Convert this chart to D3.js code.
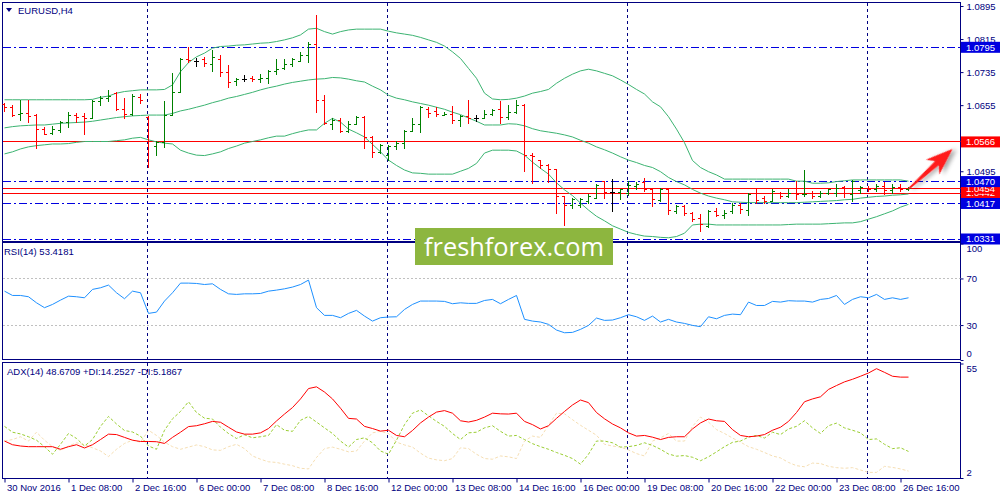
<!DOCTYPE html>
<html>
<head>
<meta charset="utf-8">
<script src="https://d3js.org/d3.v7.min.js"></script>
<style>
body { margin: 0; background: #fff; }
svg text { font-family: Tahoma, "Liberation Sans", Arial, sans-serif; font-size: 9.5px; }
</style>
</head>
<body>
<script>
// EURUSD H4 bars from 30 Nov 2016 00:00, one value per bar
var openP = [1.0657,1.0650,1.0633,1.0635,1.0629,1.0597,1.0587,1.0593,1.0613,1.0629,
  1.0627,1.0623,1.0663,1.0671,1.0682,1.0644,1.0632,1.0674,1.0624,1.0556,
  1.0564,1.0631,1.0686,1.0766,1.0760,1.0766,1.0754,1.0766,1.0734,1.0712,
  1.0718,1.0720,1.0716,1.0720,1.0736,1.0744,1.0754,1.0760,1.0775,1.0803,
  1.0667,1.0609,1.0619,1.0591,1.0609,1.0626,1.0577,1.0540,1.0534,1.0555,
  1.0561,1.0591,1.0609,1.0645,1.0639,1.0631,1.0633,1.0618,1.0627,1.0622,
  1.0623,1.0633,1.0645,1.0626,1.0637,1.0655,1.0534,1.0521,1.0510,1.0500,
  1.0433,1.0413,1.0411,1.0421,1.0429,1.0469,1.0443,1.0443,1.0441,1.0457,
  1.0467,1.0450,1.0425,1.0450,1.0397,1.0409,1.0393,1.0381,1.0362,1.0397,
  1.0389,1.0397,1.0413,1.0401,1.0440,1.0429,1.0422,1.0442,1.0434,1.0442,
  1.0438,1.0442,1.0434,1.0442,1.0442,1.0456,1.0438,1.0448,1.0454,1.0451,
  1.0459,1.0448,1.0456,1.0450];
var highP = [1.0659,1.0653,1.0667,1.0667,1.0633,1.0601,1.0603,1.0615,1.0638,1.0635,
  1.0635,1.0667,1.0675,1.0690,1.0685,1.0671,1.0680,1.0680,1.0627,1.0567,
  1.0663,1.0732,1.0768,1.0795,1.0768,1.0771,1.0787,1.0776,1.0752,1.0720,
  1.0726,1.0724,1.0728,1.0738,1.0766,1.0766,1.0768,1.0783,1.0806,1.0873,
  1.0678,1.0623,1.0623,1.0615,1.0627,1.0627,1.0578,1.0560,1.0558,1.0567,
  1.0593,1.0623,1.0651,1.0650,1.0650,1.0638,1.0651,1.0631,1.0667,1.0629,
  1.0641,1.0645,1.0663,1.0655,1.0667,1.0657,1.0537,1.0522,1.0512,1.0500,
  1.0435,1.0428,1.0429,1.0439,1.0464,1.0471,1.0474,1.0451,1.0469,1.0467,
  1.0477,1.0451,1.0454,1.0451,1.0411,1.0411,1.0395,1.0391,1.0399,1.0405,
  1.0399,1.0417,1.0416,1.0442,1.0450,1.0434,1.0450,1.0443,1.0451,1.0471,
  1.0498,1.0446,1.0446,1.0451,1.0464,1.0459,1.0472,1.0459,1.0459,1.0463,
  1.0467,1.0462,1.0462,1.0456];
var lowP = [1.0639,1.0627,1.0618,1.0613,1.0550,1.0583,1.0583,1.0589,1.0601,1.0613,
  1.0583,1.0622,1.0654,1.0663,1.0643,1.0622,1.0631,1.0659,1.0504,1.0534,
  1.0552,1.0631,1.0686,1.0758,1.0748,1.0748,1.0736,1.0724,1.0698,1.0702,
  1.0712,1.0713,1.0710,1.0708,1.0730,1.0742,1.0748,1.0760,1.0758,1.0637,
  1.0607,1.0595,1.0589,1.0589,1.0607,1.0550,1.0528,1.0537,1.0520,1.0548,
  1.0550,1.0591,1.0589,1.0626,1.0627,1.0629,1.0611,1.0604,1.0611,1.0615,
  1.0622,1.0631,1.0611,1.0621,1.0635,1.0494,1.0466,1.0502,1.0467,1.0393,
  1.0363,1.0405,1.0408,1.0416,1.0428,1.0429,1.0397,1.0427,1.0437,1.0452,
  1.0445,1.0409,1.0421,1.0391,1.0393,1.0389,1.0373,1.0349,1.0359,1.0385,
  1.0381,1.0393,1.0393,1.0388,1.0417,1.0417,1.0421,1.0429,1.0431,1.0427,
  1.0434,1.0429,1.0432,1.0439,1.0434,1.0432,1.0421,1.0442,1.0446,1.0447,
  1.0438,1.0442,1.0446,1.0448];
var closeP = [1.0650,1.0629,1.0635,1.0627,1.0597,1.0585,1.0595,1.0613,1.0629,1.0626,
  1.0623,1.0665,1.0671,1.0677,1.0644,1.0632,1.0677,1.0667,1.0567,1.0564,
  1.0631,1.0686,1.0766,1.0762,1.0760,1.0756,1.0770,1.0734,1.0710,1.0717,
  1.0718,1.0716,1.0720,1.0736,1.0742,1.0754,1.0766,1.0775,1.0803,1.0667,
  1.0611,1.0619,1.0591,1.0609,1.0626,1.0577,1.0540,1.0558,1.0555,1.0561,
  1.0591,1.0609,1.0649,1.0635,1.0632,1.0633,1.0618,1.0627,1.0623,1.0622,
  1.0633,1.0641,1.0626,1.0637,1.0655,1.0534,1.0530,1.0510,1.0500,1.0435,
  1.0411,1.0426,1.0427,1.0435,1.0461,1.0443,1.0443,1.0450,1.0461,1.0464,
  1.0451,1.0427,1.0450,1.0401,1.0409,1.0393,1.0377,1.0367,1.0397,1.0389,
  1.0393,1.0413,1.0402,1.0439,1.0425,1.0421,1.0446,1.0434,1.0442,1.0438,
  1.0439,1.0434,1.0442,1.0450,1.0454,1.0440,1.0469,1.0456,1.0450,1.0459,
  1.0448,1.0456,1.0450,1.0454];

// Bollinger bands
var bbUpper = [1.0668,1.0668,1.0668,1.0668,1.0668,1.0668,1.0668,1.0668,1.0668,1.0668,
  1.0668,1.0669,1.0674,1.0677,1.0684,1.0688,1.0690,1.0692,1.0692,1.0692,
  1.0693,1.0704,1.0736,1.0758,1.0772,1.0781,1.0793,1.0797,1.0798,1.0800,
  1.0801,1.0803,1.0805,1.0806,1.0809,1.0813,1.0818,1.0825,1.0839,1.0841,
  1.0833,1.0827,1.0833,1.0837,1.0839,1.0839,1.0839,1.0839,1.0834,1.0830,
  1.0827,1.0824,1.0819,1.0813,1.0807,1.0798,1.0784,1.0768,1.0744,1.0720,
  1.0684,1.0670,1.0668,1.0669,1.0672,1.0677,1.0684,1.0688,1.0693,1.0708,
  1.0720,1.0730,1.0738,1.0742,1.0738,1.0732,1.0726,1.0716,1.0705,1.0693,
  1.0682,1.0663,1.0651,1.0627,1.0597,1.0564,1.0521,1.0504,1.0494,1.0486,
  1.0476,1.0476,1.0476,1.0476,1.0476,1.0476,1.0476,1.0476,1.0476,1.0471,
  1.0471,1.0466,1.0466,1.0467,1.0470,1.0472,1.0474,1.0474,1.0474,1.0474,
  1.0474,1.0474,1.0474,1.0471];
var bbMiddle = [1.0600,1.0603,1.0605,1.0606,1.0607,1.0607,1.0609,1.0611,1.0612,1.0613,
  1.0614,1.0616,1.0619,1.0622,1.0625,1.0627,1.0629,1.0630,1.0631,1.0631,
  1.0631,1.0635,1.0641,1.0645,1.0650,1.0655,1.0661,1.0666,1.0672,1.0676,
  1.0681,1.0686,1.0692,1.0697,1.0701,1.0706,1.0710,1.0713,1.0716,1.0718,
  1.0719,1.0722,1.0721,1.0718,1.0714,1.0711,1.0701,1.0692,1.0679,1.0672,
  1.0668,1.0663,1.0659,1.0655,1.0650,1.0645,1.0638,1.0632,1.0624,1.0616,
  1.0607,1.0607,1.0607,1.0610,1.0609,1.0605,1.0598,1.0593,1.0590,1.0587,
  1.0583,1.0578,1.0570,1.0563,1.0554,1.0547,1.0539,1.0530,1.0522,1.0516,
  1.0509,1.0504,1.0494,1.0480,1.0470,1.0462,1.0451,1.0442,1.0435,1.0430,
  1.0426,1.0421,1.0420,1.0419,1.0419,1.0419,1.0419,1.0419,1.0419,1.0419,
  1.0420,1.0421,1.0422,1.0423,1.0424,1.0426,1.0427,1.0430,1.0432,1.0434,
  1.0435,1.0437,1.0438,1.0440];
var bbLower = [1.0537,1.0542,1.0549,1.0554,1.0557,1.0559,1.0561,1.0561,1.0562,1.0565,
  1.0567,1.0567,1.0567,1.0567,1.0569,1.0571,1.0575,1.0577,1.0571,1.0566,
  1.0563,1.0561,1.0546,1.0539,1.0534,1.0533,1.0537,1.0542,1.0550,1.0556,
  1.0563,1.0567,1.0571,1.0576,1.0580,1.0580,1.0586,1.0591,1.0595,1.0595,
  1.0611,1.0623,1.0614,1.0597,1.0588,1.0578,1.0560,1.0542,1.0522,1.0509,
  1.0498,1.0491,1.0490,1.0488,1.0488,1.0488,1.0488,1.0495,1.0502,1.0514,
  1.0539,1.0546,1.0546,1.0546,1.0544,1.0534,1.0517,1.0502,1.0488,1.0467,
  1.0450,1.0436,1.0418,1.0401,1.0386,1.0375,1.0363,1.0355,1.0347,1.0342,
  1.0338,1.0337,1.0335,1.0334,1.0337,1.0345,1.0365,1.0367,1.0367,1.0365,
  1.0365,1.0365,1.0365,1.0365,1.0365,1.0365,1.0365,1.0365,1.0366,1.0367,
  1.0367,1.0367,1.0367,1.0368,1.0369,1.0370,1.0370,1.0373,1.0379,1.0385,
  1.0392,1.0399,1.0408,1.0415];

var rsiValues = [59.1,55.4,55.4,54.3,49.1,44.9,47.7,51.4,54.8,54.3,
  53.4,60.6,62.0,64.3,57.7,52.6,59.1,57.7,40.0,41.1,
  50.6,57.7,66.0,66.0,65.7,64.8,65.4,60.6,56.8,56.3,
  56.8,56.8,57.1,59.1,60.0,61.1,62.6,64.8,68.6,44.9,
  38.3,38.3,36.3,40.0,42.6,37.7,33.4,36.3,36.9,37.1,
  43.4,47.7,50.6,50.6,50.6,50.3,48.3,49.1,48.6,48.6,
  51.1,52.0,48.3,52.0,55.4,34.9,33.4,32.6,30.6,25.7,
  23.4,23.7,26.3,29.7,36.0,34.0,34.3,36.3,38.9,37.1,
  34.0,37.7,32.6,34.9,32.6,31.4,29.7,28.6,37.1,35.4,
  38.3,39.4,38.9,49.7,46.8,46.8,50.3,49.7,50.9,50.6,
  50.6,49.7,52.0,52.8,55.4,47.7,52.0,54.3,53.4,56.3,
  52.0,53.4,52.0,53.4];

var adxValues = [19.1,17.4,16.8,16.5,16.5,16.5,16.5,15.3,16.5,17.4,
  15.9,17.4,19.8,22.3,22.1,20.8,19.5,18.9,18.9,18.8,
  18.0,20.8,23.2,25.8,26.2,27.1,28.2,27.8,25.5,23.3,
  22.3,22.3,22.9,24.9,28.4,31.6,34.6,38.6,43.4,44.2,
  41.8,38.6,34.3,29.6,29.3,25.9,24.9,23.7,24.1,21.7,
  21.1,24.0,27.5,30.2,32.5,33.2,32.0,28.5,27.9,28.7,
  30.2,32.0,31.7,31.6,32.0,28.2,26.7,24.7,26.2,29.6,
  32.8,35.8,38.1,36.9,32.3,29.4,27.0,25.2,22.9,21.4,
  21.7,20.9,19.8,20.8,21.1,21.1,24.7,27.5,29.3,28.5,
  28.2,24.4,21.7,21.1,21.4,22.1,24.1,25.5,28.2,32.3,
  37.3,38.6,39.6,43.0,44.8,46.5,47.7,49.1,50.6,52.6,
  50.9,49.1,48.7,48.7];
var plusDI = [25.9,23.2,22.4,21.1,19.5,16.5,13.0,17.6,22.6,20.3,
  16.8,19.8,25.9,30.5,27.0,24.0,23.3,21.4,16.8,15.3,
  24.1,29.4,32.8,37.3,32.3,29.7,29.3,25.5,22.6,20.3,
  22.0,20.6,21.1,21.7,26.7,24.1,23.6,28.7,30.5,27.9,
  25.2,22.6,19.1,16.3,19.8,20.6,18.3,14.5,13.0,19.5,
  26.7,32.0,33.5,30.8,28.2,25.9,22.6,19.8,22.9,23.2,
  25.2,26.2,23.6,21.4,21.7,19.8,17.9,16.5,15.3,13.8,
  12.5,11.0,8.4,13.0,19.1,19.1,18.3,16.3,16.5,17.1,
  18.3,17.1,15.3,13.1,12.1,12.4,11.6,10.0,11.8,14.1,
  16.5,18.5,19.1,20.9,21.7,20.5,23.2,22.1,24.7,25.9,
  28.5,25.2,22.6,26.2,27.4,25.2,24.1,22.9,19.8,20.1,
  17.6,15.6,16.0,14.3];
var minusDI = [19.1,19.8,21.1,19.1,23.2,19.5,16.5,14.8,16.8,18.3,
  17.4,16.0,14.5,11.9,15.3,18.0,19.5,18.6,24.1,21.7,
  18.6,16.5,15.3,16.3,17.3,16.5,15.0,14.8,16.5,17.6,
  15.6,12.2,10.7,9.5,9.2,8.4,7.7,6.5,6.2,11.5,
  15.6,16.3,15.3,14.1,14.5,19.1,22.9,23.6,22.6,18.6,
  17.3,16.3,13.5,11.2,10.4,10.0,11.0,16.0,15.6,13.0,
  11.0,10.7,12.2,11.8,11.0,19.1,21.4,20.8,26.4,32.0,
  31.7,29.0,26.4,24.1,21.8,17.6,16.8,16.3,15.0,13.3,
  12.2,19.1,20.6,22.6,19.1,19.1,25.9,30.2,27.9,24.4,
  22.6,20.5,18.6,16.5,15.3,13.8,12.2,11.3,9.2,7.7,
  7.2,8.9,8.7,7.4,6.8,6.5,6.8,5.7,4.6,4.6,
  7.4,6.9,6.2,5.2];

var timeTickBars = [0,8,16,24,32,40,48,56,64,72,80,88,96,104,112];
var timeLabels = ['30 Nov 2016','1 Dec 08:00','2 Dec 16:00','6 Dec 00:00','7 Dec 08:00',
  '8 Dec 16:00','12 Dec 00:00','13 Dec 08:00','14 Dec 16:00','16 Dec 00:00',
  '19 Dec 08:00','20 Dec 16:00','22 Dec 00:00','23 Dec 08:00','26 Dec 16:00'];
var separatorBars = [18,48,78,108];
// price scale labels that are not covered by a level box
var priceTicks = [1.0895,1.0815,1.0735,1.0655,1.0495];
var blueLevels = [1.0795,1.0470,1.0417,1.0331];
var redLevels = [1.0566,1.0454,1.0442];
var rsiLevels = [70,30];
var rsiTicks = [100,70,30,0];
var adxTicks = [55,2];
var arrowFrom = [113, 1.0452], arrowTo = [118.5, 1.0549];

var width = 1000, height = 500;
var left = 2.5, right = 960.5;
var panels = {
  main: {top: 2.5, bottom: 241.5},
  rsi: {top: 242.5, bottom: 359.5},
  adx: {top: 362.5, bottom: 478.5}
};
var navy = "#000080", blue = "#0000e0", red = "#ff0000";

var x = d3.scaleLinear().domain([0,1]).range([4.5,12.5]);
var y = d3.scaleLinear().domain([1.0331,1.0895]).range([239,6]);
var yRsi = d3.scaleLinear().domain([0,100]).range([360,243.5]);
var yAdx = d3.scaleLinear().domain([2,55]).range([478,363.5]);

function crisp(v) { return Math.floor(v) + 0.5; }

var svg = d3.select("body").append("svg").attr("width",width).attr("height",height);
var defs = svg.append("defs");
Object.keys(panels).forEach(function(k) {
  defs.append("clipPath").attr("id","clip-"+k).append("rect")
    .attr("x",left).attr("y",panels[k].top)
    .attr("width",right-left).attr("height",panels[k].bottom-panels[k].top);
});
var shadow = defs.append("filter").attr("id","shadow")
  .attr("x","-50%").attr("y","-50%").attr("width","200%").attr("height","200%");
shadow.append("feDropShadow").attr("dx",3).attr("dy",3).attr("stdDeviation",2)
  .attr("flood-color","#000").attr("flood-opacity",0.35);

svg.append("rect").attr("width",width).attr("height",height).attr("fill","#fff");

// panel frames
Object.keys(panels).forEach(function(k) {
  svg.append("rect").attr("x",left).attr("y",panels[k].top)
    .attr("width",right-left).attr("height",panels[k].bottom-panels[k].top)
    .attr("fill","none").attr("stroke",navy).attr("shape-rendering","crispEdges");
});

// period separators
svg.append("g").selectAll("line").data(separatorBars).enter().append("line")
  .attr("x1",function(d){ return x(d)-1; }).attr("x2",function(d){ return x(d)-1; })
  .attr("y1",panels.main.top).attr("y2",panels.adx.bottom)
  .attr("stroke",navy).attr("stroke-dasharray","3,3").attr("shape-rendering","crispEdges");

// ---- main panel ----
var main = svg.append("g").attr("clip-path","url(#clip-main)");

main.append("g").selectAll("line").data(blueLevels).enter().append("line")
  .attr("x1",left).attr("x2",right)
  .attr("y1",function(d){ return crisp(y(d)); }).attr("y2",function(d){ return crisp(y(d)); })
  .attr("stroke",blue).attr("stroke-dasharray","8,3,2,3").attr("shape-rendering","crispEdges");
main.append("g").selectAll("line").data(redLevels).enter().append("line")
  .attr("x1",left).attr("x2",right)
  .attr("y1",function(d){ return crisp(y(d)); }).attr("y2",function(d){ return crisp(y(d)); })
  .attr("stroke",red).attr("shape-rendering","crispEdges");

var bbLine = d3.line().x(function(d,i){ return x(i); }).y(function(d){ return y(d); });
[bbUpper,bbMiddle,bbLower].forEach(function(band) {
  main.append("path").attr("d",bbLine(band)).attr("fill","none")
    .attr("stroke","#3cb371").attr("stroke-width",1);
});

var bars = d3.range(openP.length).map(function(i) {
  return {i:i, o:openP[i], h:highP[i], l:lowP[i], c:closeP[i]};
});
main.append("g").selectAll("path").data(bars).enter().append("path")
  .attr("d",function(d) {
    var bx = x(d.i);
    var yo = crisp(y(d.o)), yc = crisp(y(d.c));
    return "M"+bx+","+(Math.floor(y(d.h)))+"V"+(Math.floor(y(d.l))+1)+
      "M"+(bx-2.5)+","+yo+"H"+bx+"M"+bx+","+yc+"H"+(bx+2.5);
  })
  .attr("fill","none")
  .attr("stroke",function(d){ return d.c > d.o ? "#008000" : (d.c < d.o ? "#ff0000" : "#000"); })
  .attr("stroke-width",1).attr("shape-rendering","crispEdges");

// arrow annotation
var ax0 = x(arrowFrom[0]), ay0 = y(arrowFrom[1]), ax1 = x(arrowTo[0]), ay1 = y(arrowTo[1]);
var alen = Math.hypot(ax1-ax0, ay1-ay0);
var aang = Math.atan2(ay1-ay0, ax1-ax0) * 180 / Math.PI;
svg.append("g").attr("transform","translate("+ax0+","+ay0+") rotate("+aang+")")
  .append("path")
  .attr("d","M0,-0.8L"+(alen-21)+",-2.8L"+(alen-27)+",-10L"+alen+",0L"+(alen-27)+",10L"+(alen-21)+",2.8L0,0.8Z")
  .attr("fill","#ff1a1a").attr("filter","url(#shadow)");

// price axis
var priceAxis = d3.axisRight(y).tickValues(priceTicks).tickFormat(d3.format(".4f")).tickSize(3).tickPadding(3);
svg.append("g").attr("transform","translate("+right+",0)").call(priceAxis)
  .call(function(g){ g.select(".domain").remove(); })
  .call(function(g){ g.selectAll("line").attr("stroke",navy); })
  .call(function(g){ g.selectAll("text").attr("fill",navy); });

function levelBox(level, color) {
  var g = svg.append("g").attr("transform","translate("+(right+0.5)+","+y(level)+")");
  g.append("rect").attr("x",0).attr("y",-5.5).attr("width",39).attr("height",11).attr("fill",color);
  g.append("text").attr("x",5).attr("dy","0.35em").attr("fill","#fff").text(d3.format(".4f")(level));
}
redLevels.slice().sort(d3.ascending).forEach(function(l){ levelBox(l, red); });
blueLevels.forEach(function(l){ levelBox(l, blue); });

svg.append("path").attr("d","M6,8L12,8L9,12Z").attr("fill",navy);
svg.append("text").attr("x",18).attr("y",14).attr("fill",navy).text("EURUSD,H4");

// ---- RSI panel ----
var rsiG = svg.append("g").attr("clip-path","url(#clip-rsi)");
rsiG.append("g").selectAll("line").data(rsiLevels).enter().append("line")
  .attr("x1",left).attr("x2",right)
  .attr("y1",function(d){ return crisp(yRsi(d)); }).attr("y2",function(d){ return crisp(yRsi(d)); })
  .attr("stroke","#c0c0c0").attr("stroke-dasharray","2,2").attr("shape-rendering","crispEdges");
var rsiLine = d3.line().x(function(d,i){ return x(i); }).y(function(d){ return yRsi(d); });
rsiG.append("path").attr("d",rsiLine(rsiValues)).attr("fill","none").attr("stroke","#1e90ff").attr("stroke-width",1);
svg.append("text").attr("x",4).attr("y",255).attr("fill",navy).text("RSI(14) 53.4181");

function sideAxis(scale, ticks, panel) {
  var ax = d3.axisRight(scale).tickValues(ticks).tickFormat(d3.format("d")).tickSize(3).tickPadding(3);
  svg.append("g").attr("transform","translate("+right+",0)").call(ax)
    .call(function(g){ g.select(".domain").remove(); })
    .call(function(g){ g.selectAll("line").attr("stroke",navy); })
    .call(function(g){ g.selectAll("text").attr("fill",navy).attr("y",function(d) {
      var p = scale(d), q = Math.max(panel.top+6, Math.min(panel.bottom-6, p));
      return q - p;
    }); });
}
sideAxis(yRsi, rsiTicks, panels.rsi);

// ---- ADX panel ----
var adxG = svg.append("g").attr("clip-path","url(#clip-adx)");
var adxLine = d3.line().x(function(d,i){ return x(i); }).y(function(d){ return yAdx(d); });
adxG.append("path").attr("d",adxLine(minusDI)).attr("fill","none").attr("stroke","#f5deb3").attr("stroke-dasharray","3,2");
adxG.append("path").attr("d",adxLine(plusDI)).attr("fill","none").attr("stroke","#9acd32").attr("stroke-dasharray","3,2");
adxG.append("path").attr("d",adxLine(adxValues)).attr("fill","none").attr("stroke","#ff0000").attr("stroke-width",1);
svg.append("text").attr("x",7).attr("y",375).attr("fill",navy).text("ADX(14) 48.6709 +DI:14.2527 -DI:5.1867");
sideAxis(yAdx, adxTicks, panels.adx);

// ---- time axis ----
var timeAxis = d3.axisBottom(x).tickValues(timeTickBars)
  .tickFormat(function(d,i){ return timeLabels[i]; }).tickSize(4).tickPadding(2);
svg.append("g").attr("transform","translate(0,"+panels.adx.bottom+")").call(timeAxis)
  .call(function(g){ g.select(".domain").remove(); })
  .call(function(g){ g.selectAll("line").attr("stroke",navy); })
  .call(function(g){ g.selectAll("text").attr("fill",navy).attr("text-anchor","start").attr("x",2); });

// watermark
svg.append("rect").attr("x",415).attr("y",228).attr("width",198).attr("height",37).attr("fill","#8db63f");
svg.append("text").attr("x",424).attr("y",255.5).attr("fill","#fff")
  .style("font-family","'Open Sans', 'Noto Sans', sans-serif").style("font-size","26px")
  .attr("textLength",180).attr("lengthAdjust","spacingAndGlyphs").text("freshforex.com");
</script>
</body>
</html>
